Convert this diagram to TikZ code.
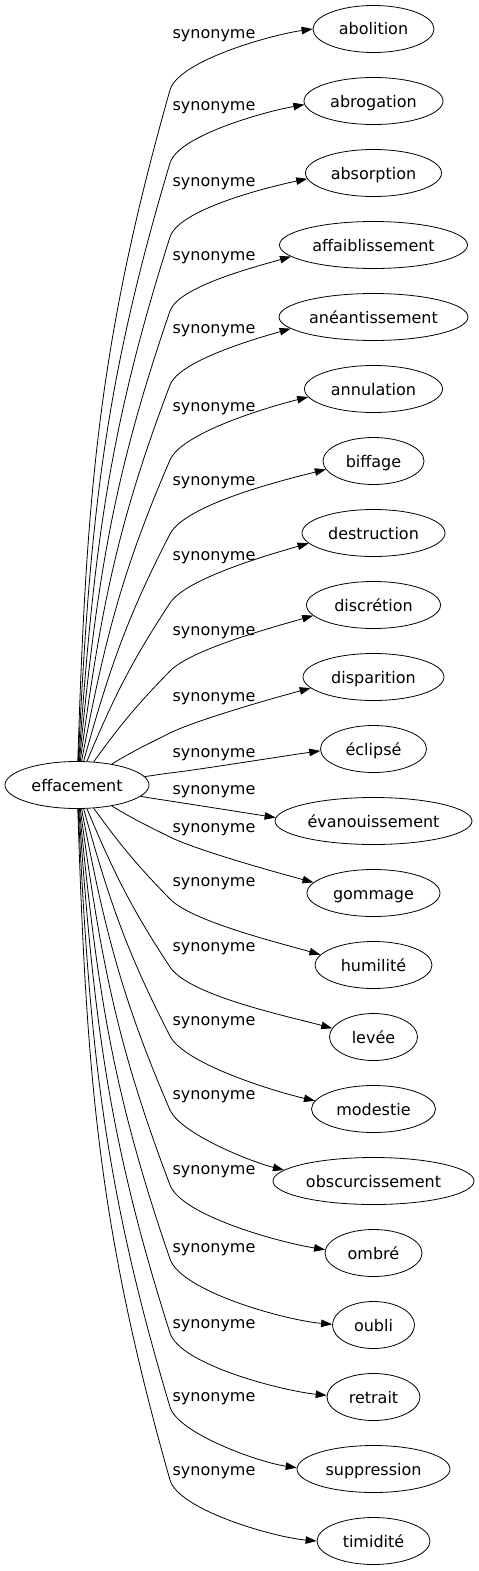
\documentclass[tikz,border=0pt]{standalone}
\usepackage{fontspec}
\setmainfont{DejaVu Sans}
\usetikzlibrary{shapes.geometric,arrows.meta}

\tikzset{
  word/.style={ellipse, draw, line width=0.8pt, inner sep=0pt, minimum height=47pt,
    text height=14pt, text depth=2pt, font=\fontsize{16}{19}\selectfont},
  lab/.style={anchor=base, inner sep=0pt, font=\fontsize{16}{19}\selectfont},
  edge/.style={-{Triangle[length=11pt,width=7.5pt]}, line width=0.8pt}
}

\begin{document}
\begin{tikzpicture}[x=1pt, y=1pt]
    \useasboundingbox (0,0) rectangle (479,-1571);

    % Source word
    \node[word, minimum width=144pt] (eff) at (77,-785) {effacement};

    % Synonyms: word/width/label y/bend y/anchor/in angle
    \foreach \w/\ww/\ly/\by/\anc/\inang [count=\i from 0] in {
        abolition/121/33/90/180/188,
        abrogation/139/105/163/183/190,
        absorption/136/181/237/185/192,
        affaiblissement/188/255/311/188/196,
        anéantissement/189/328/385/188/196,
        annulation/138/406/460/187/194,
        biffage/101/480/534/190/194,
        destruction/143/555/603/189/196,
        discrétion/134/630/671/190/196,
        disparition/141/696/733/190/195,
        éclipsé/106/752/773/182/188,
        évanouissement/197/789/801/178/171,
        gommage/133/827/837/170/165,
        humilité/117/881/899/169/164,
        levée/88/946/967/168/165,
        modestie/124/1020/1036/172/167,
        obscurcissement/201/1094/1110/173/166,
        ombré/97/1169/1185/176/171,
        oubli/82/1247/1259/179/175,
        retrait/93/1323/1333/178/174,
        suppression/153/1396/1407/179/172,
        timidité/113/1470/1480/180/175}
    {
        \node[word, minimum width=\ww pt] (t\i) at (373.5,{-29-72*\i}) {\w};
        \node[lab] (l\i) at (214,{-\ly-5.5}) {synonyme};
        \pgfmathsetmacro\ang{atan2(785-\by,93)}
        \pgfmathsetmacro\sa{1.07*\ang}
        \pgfmathsetmacro\ab{0.9*\ang}
        \pgfmathsetmacro\ib{\ab+180}
        \coordinate (b\i) at (170,-\by);
        \draw[edge] (eff) to[out=\sa, in=\ib] (b\i)
            to[out=\ab, in=\inang, out looseness=0.5, in looseness=0.7] (t\i.\anc);
    }

\end{tikzpicture}
\end{document}
